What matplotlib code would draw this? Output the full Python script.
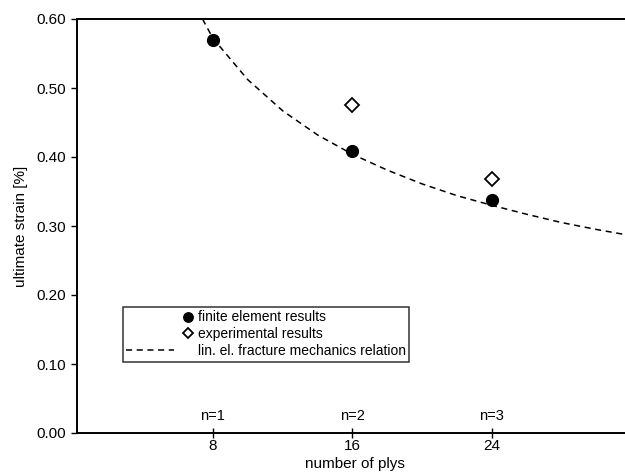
import matplotlib.pyplot as plt
from matplotlib.legend_handler import HandlerLine2D

plt.rcParams['font.family'] = ['Liberation Sans', 'DejaVu Sans']

# Data
plies = [8, 16, 24]
fe_strain = [0.570, 0.409, 0.338]
exp_plies = [16, 24]
exp_strain = [0.475, 0.368]
n_labels = ['n=1', 'n=2', 'n=3']

# lin. el. fracture mechanics curve
curve_x = [7.4, 8, 10, 12, 14, 16, 18, 20, 22, 24, 26, 28, 30, 32]
curve_y = [0.600, 0.572, 0.512, 0.467, 0.432, 0.404, 0.381, 0.361,
           0.344, 0.330, 0.317, 0.305, 0.295, 0.286]


class MarkerRight(HandlerLine2D):
    # single marker sitting at the right end of the handle box
    def get_xdata(self, legend, xdescent, ydescent, width, height, fontsize):
        x = width - xdescent - 0.35 * fontsize
        return [x, x], [x]


class LineLeft(HandlerLine2D):
    # dashed sample only over the left part of the handle box
    def get_xdata(self, legend, xdescent, ydescent, width, height, fontsize):
        x0, x1 = -xdescent, -xdescent + 0.72 * width
        return [x0, x1], [x0, x1]


fig = plt.figure(figsize=(6.25, 4.75), dpi=100)
ax = fig.add_axes([77 / 625, 1 - 433 / 475, (633 - 77) / 625, (433 - 19) / 475])

line, = ax.plot(curve_x, curve_y, color='black', lw=1.1, ls=(0, (4, 3)),
                label='lin. el. fracture mechanics relation', zorder=2)
fe, = ax.plot(plies, fe_strain, 'o', color='black', ms=8.5, ls='none',
              label='finite element results', zorder=3)
ex, = ax.plot(exp_plies, exp_strain, 'D', mfc='white', mec='black', mew=1.3,
              ms=7, ls='none', label='experimental results', zorder=3)

for x, lab in zip(plies, n_labels):
    ax.text(x, 0.014, lab, ha='center', va='bottom', fontsize=10.5)

ax.set_xlim(0.2, 32.1)
ax.set_ylim(0, 0.6)
ax.set_xticks(plies)
ax.set_yticks([0, 0.1, 0.2, 0.3, 0.4, 0.5, 0.6])
ax.set_yticklabels(['0.00', '0.10', '0.20', '0.30', '0.40', '0.50', '0.60'])
ax.tick_params(axis='y', direction='out', length=4, labelsize=11, width=1, pad=4)
ax.tick_params(axis='x', direction='inout', length=7, labelsize=11, width=1, pad=1)
ax.spines['right'].set_visible(False)
for s in ['left', 'top', 'bottom']:
    ax.spines[s].set_linewidth(1.4)

ax.set_xlabel('number of plys', fontsize=11, labelpad=3)
ax.set_ylabel('ultimate strain [%]', fontsize=11, labelpad=6)

leg = ax.legend([fe, ex, line],
                ['finite element results', 'experimental results',
                 'lin. el. fracture mechanics relation'],
                handler_map={fe: MarkerRight(numpoints=1),
                             ex: MarkerRight(numpoints=1),
                             line: LineLeft()},
                loc='upper left', bbox_to_anchor=(46 / 556, (433 - 307) / 414),
                fontsize=10, frameon=True, fancybox=False, edgecolor='black',
                handlelength=4.8, handletextpad=0.35, borderpad=0.25,
                borderaxespad=0, labelspacing=0.2, markerscale=0.8)
leg.get_frame().set_linewidth(1.1)

fig.savefig('out.png', dpi=100)
